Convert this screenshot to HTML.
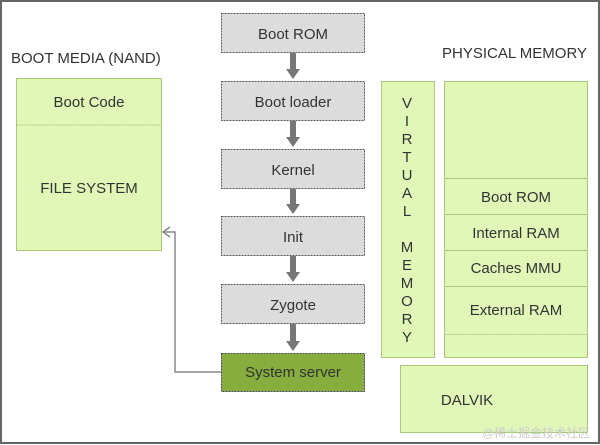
<!DOCTYPE html>
<html><head><style>
html,body{margin:0;padding:0;background:#fff;}
svg{display:block;}
text{font-family:"Liberation Sans",sans-serif;fill:#333;}
</style></head><body>
<svg width="600" height="445" viewBox="0 0 600 445">
<rect x="0" y="0" width="600" height="445" fill="#fff"/>
<rect x="1" y="1" width="598" height="442" fill="none" stroke="#666" stroke-width="2"/>
<text x="11" y="63" font-size="15">BOOT MEDIA (NAND)</text>
<text x="442" y="58" font-size="15">PHYSICAL MEMORY</text>
<!-- left box -->
<rect x="16.5" y="78.5" width="145" height="172" fill="#e1f7b8" stroke="#a9c97a"/>
<line x1="16.5" y1="125" x2="161.5" y2="125" stroke="#a9c97a" stroke-dasharray="2,1"/>
<text x="89" y="107" font-size="15" text-anchor="middle">Boot Code</text>
<text x="89" y="193" font-size="15" text-anchor="middle">FILE SYSTEM</text>
<!-- center boxes -->
<g font-size="15" text-anchor="middle">
<rect x="221.5" y="13.5" width="143" height="39" fill="#dcdcdc" stroke="#555" stroke-dasharray="2,1"/>
<text x="293" y="39">Boot ROM</text>
<rect x="221.5" y="81.5" width="143" height="39" fill="#dcdcdc" stroke="#555" stroke-dasharray="2,1"/>
<text x="293" y="107">Boot loader</text>
<rect x="221.5" y="149.5" width="143" height="39" fill="#dcdcdc" stroke="#555" stroke-dasharray="2,1"/>
<text x="293" y="175">Kernel</text>
<rect x="221.5" y="216.5" width="143" height="39" fill="#dcdcdc" stroke="#555" stroke-dasharray="2,1"/>
<text x="293" y="242">Init</text>
<rect x="221.5" y="284.5" width="143" height="39" fill="#dcdcdc" stroke="#555" stroke-dasharray="2,1"/>
<text x="293" y="310">Zygote</text>
<rect x="221.5" y="353.5" width="143" height="38" fill="#86ad3e" stroke="#445" stroke-dasharray="2,1"/>
<text x="293" y="377">System server</text>
</g>
<!-- arrows -->
<g fill="#777" stroke="none">
<rect x="290" y="53" width="6" height="18"/><polygon points="286,69 300,69 293,79"/>
<rect x="290" y="121" width="6" height="18"/><polygon points="286,137 300,137 293,147"/>
<rect x="290" y="189" width="6" height="17"/><polygon points="286,204 300,204 293,214"/>
<rect x="290" y="256" width="6" height="18"/><polygon points="286,272 300,272 293,282"/>
<rect x="290" y="324" width="6" height="19"/><polygon points="286,341 300,341 293,351"/>
</g>
<polyline points="221,372 175,372 175,232 163,232" fill="none" stroke="#888" stroke-width="1.5"/>
<polyline points="170,227 163,232 170,237" fill="none" stroke="#888" stroke-width="1.5"/>
<!-- virtual memory -->
<rect x="381.5" y="81.5" width="53" height="276" fill="#e1f7b8" stroke="#a9c97a"/>
<g font-size="15" text-anchor="middle">
<text x="407" y="108">V</text><text x="407" y="126">I</text><text x="407" y="144">R</text><text x="407" y="162">T</text><text x="407" y="180">U</text><text x="407" y="198">A</text><text x="407" y="216">L</text>
<text x="407" y="252">M</text><text x="407" y="270">E</text><text x="407" y="288">M</text><text x="407" y="306">O</text><text x="407" y="324">R</text><text x="407" y="342">Y</text>
</g>
<!-- physical -->
<rect x="444.5" y="81.5" width="143" height="276" fill="#e1f7b8" stroke="#a9c97a"/>
<g stroke="#a9c97a">
<line x1="444.5" y1="178.5" x2="587.5" y2="178.5"/>
<line x1="444.5" y1="214.5" x2="587.5" y2="214.5"/>
<line x1="444.5" y1="250.5" x2="587.5" y2="250.5"/>
<line x1="444.5" y1="286.5" x2="587.5" y2="286.5"/>
<line x1="444.5" y1="334.5" x2="587.5" y2="334.5" stroke-dasharray="2,1"/>
</g>
<g font-size="15" text-anchor="middle">
<text x="516" y="202">Boot ROM</text>
<text x="516" y="238">Internal RAM</text>
<text x="516" y="273">Caches MMU</text>
<text x="516" y="315">External RAM</text>
</g>
<rect x="400.5" y="365.5" width="187" height="67" fill="#e1f7b8" stroke="#a9c97a"/>
<text x="467" y="405" font-size="15" text-anchor="middle">DALVIK</text>
<text x="590" y="437" font-size="12" text-anchor="end" style="fill:#ccc;font-family:'Liberation Sans','Noto Sans CJK SC',sans-serif">@稀土掘金技术社区</text>
</svg>
</body></html>
